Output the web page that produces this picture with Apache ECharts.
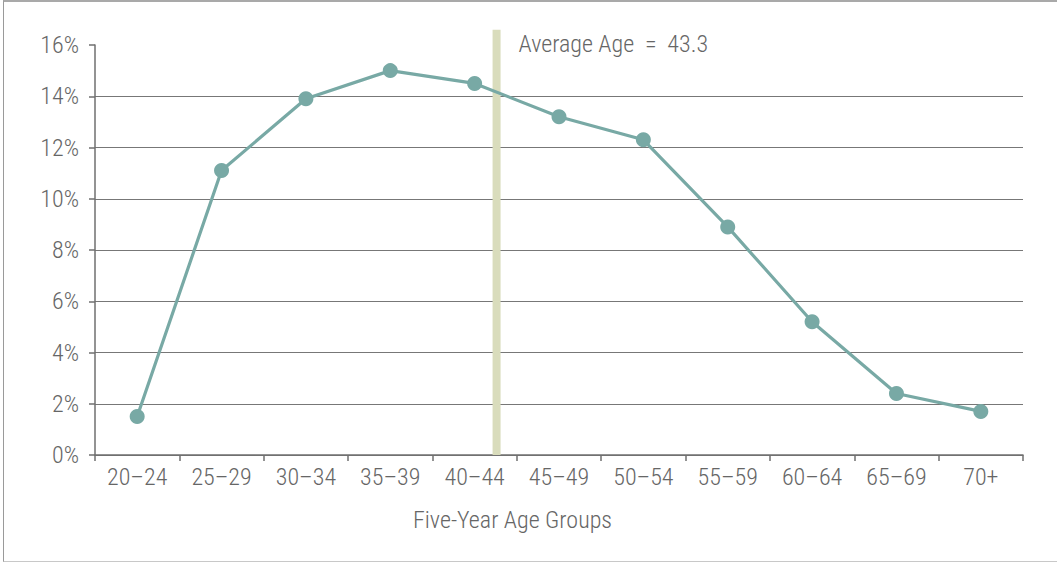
<!DOCTYPE html>
<html>
<head>
<meta charset="utf-8">
<script src="https://cdn.jsdelivr.net/npm/echarts@6/dist/echarts.min.js"></script>
<style>
  html, body { margin: 0; padding: 0; background: #fff; }
  #wrap { position: relative; width: 1057px; height: 563px; }
  #frame {
    position: absolute; left: 3px; top: 0; width: 1054px; height: 562px;
    border-top: 2px solid #a9a9a9; border-left: 1px solid #9a9a9a; border-bottom: 1px solid #c8c8c8;
    box-sizing: border-box; pointer-events: none;
  }
  #chart { position: absolute; left: 0; top: 0; width: 1057px; height: 563px; }
  #chart text { font-stretch: 75%; }
</style>
</head>
<body>
<div id="wrap">
  <div id="frame"></div>
  <div id="chart"></div>
</div>
<script>
// Age distribution by five-year group (share of total, %)
const ageGroups = ['20–24', '25–29', '30–34', '35–39', '40–44', '45–49', '50–54', '55–59', '60–64', '65–69', '70+'];
const shares = [1.5, 11.1, 13.9, 15.0, 14.5, 13.2, 12.3, 8.9, 5.2, 2.4, 1.7];
const averageAge = 43.3;
const yTicks = [0, 2, 4, 6, 8, 10, 12, 14, 16];
const xAxisTitle = 'Five-Year Age Groups';

// Group midpoints run 22, 27, ... so the category band edges sit at 19.5 and 74.5 in years
const ageMin = 19.5;
const ageMax = ageMin + ageGroups.length * 5;

const FONT = '"Roboto Condensed", "Liberation Sans Narrow", "DejaVu Sans Condensed", Roboto, sans-serif';
const WEIGHT = 300;
const TEXT = '#666666';
const AXIS = '#6f6f6f';

const chart = echarts.init(document.getElementById('chart'), null, { renderer: 'svg' });

// grid lines for every tick except the top (16%)
const gridColors = yTicks.map((v, i) => (i === yTicks.length - 1 ? 'rgba(0,0,0,0)' : '#777777'));

chart.setOption({
  animation: false,
  grid: { left: 95, right: 34, top: 45, bottom: 108 },
  graphic: [
    {
      type: 'text',
      left: 413,
      top: 508,
      style: { text: xAxisTitle, fill: TEXT, font: WEIGHT + ' 24px ' + FONT }
    }
  ],
  xAxis: [
    {
      type: 'category',
      data: ageGroups,
      boundaryGap: true,
      axisLine: { lineStyle: { color: AXIS, width: 1.5 } },
      axisTick: { show: true, length: 6, alignWithLabel: false, lineStyle: { color: AXIS, width: 1.5 } },
      axisLabel: { color: TEXT, fontFamily: FONT, fontWeight: WEIGHT, fontSize: 24, margin: 10 }
    },
    {
      type: 'value',
      min: ageMin,
      max: ageMax,
      show: false
    }
  ],
  yAxis: {
    type: 'value',
    min: 0,
    max: 16,
    interval: 2,
    axisLine: { show: true, lineStyle: { color: AXIS, width: 1.5 } },
    axisTick: { show: true, length: 6, lineStyle: { color: AXIS, width: 1.5 } },
    axisLabel: { color: TEXT, fontFamily: FONT, fontWeight: WEIGHT, fontSize: 24, margin: 16, formatter: v => v + '%' },
    splitLine: { show: true, lineStyle: { color: gridColors, width: 1.2 } }
  },
  series: [
    {
      // average-age marker band
      type: 'line',
      xAxisIndex: 1,
      clip: false,
      silent: true,
      symbol: 'none',
      z: 1,
      data: [[averageAge, 0], [averageAge, 16.6]],
      lineStyle: { color: '#d9dcbc', width: 8, cap: 'butt' },
      endLabel: {
        show: true,
        formatter: 'Average Age\u2002=\u2002' + averageAge,
        color: TEXT,
        fontFamily: FONT,
        fontWeight: WEIGHT,
        fontSize: 24,
        align: 'left',
        verticalAlign: 'middle',
        offset: [14, 14]
      }
    },
    {
      type: 'line',
      data: shares,
      z: 3,
      symbol: 'circle',
      symbolSize: 15,
      lineStyle: { color: '#78a9a5', width: 3.2 },
      itemStyle: { color: '#78a9a5' }
    }
  ]
});
</script>
</body>
</html>
